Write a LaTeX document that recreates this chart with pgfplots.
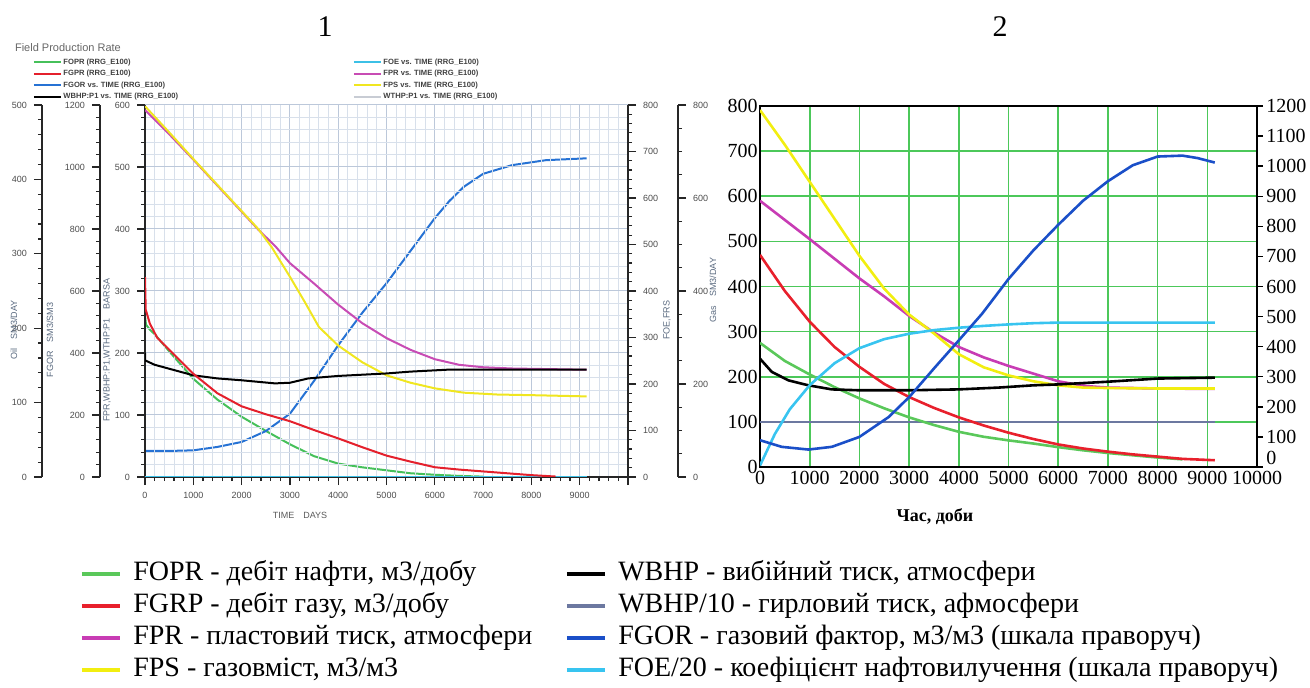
\documentclass[border=0pt]{standalone}
\usepackage{fontspec}
\setmainfont{Liberation Serif}
\newfontfamily\lsans{Liberation Sans}
\usepackage{pgfplots}
\pgfplotsset{compat=1.18}
% left panel colours
\definecolor{lgreen}{HTML}{46C05A}
\definecolor{lred}{HTML}{E4202C}
\definecolor{lblue}{HTML}{2672D4}
\definecolor{lmag}{HTML}{C84CB4}
\definecolor{lyel}{HTML}{F0E620}
\definecolor{lcyan}{HTML}{3CC0E6}
\definecolor{lgrayl}{HTML}{C8CCD4}
\definecolor{gridmin}{HTML}{D8E0EB}
\definecolor{gridmaj}{HTML}{BCC8DA}
\definecolor{labblue}{HTML}{5A6A80}
% right panel colours
\definecolor{rgreen}{HTML}{5AC85A}
\definecolor{rred}{HTML}{E8202C}
\definecolor{rmag}{HTML}{C83CB4}
\definecolor{ryel}{HTML}{F2EE10}
\definecolor{rgray}{HTML}{6C78A0}
\definecolor{rblue}{HTML}{1A4FC8}
\definecolor{rcyan}{HTML}{38C4F0}
\definecolor{gridgreen}{HTML}{4CC85A}

\pgfplotsset{
  lpanel/.style={scale only axis, height=186pt, ymin=0, clip mode=individual,
    tick label style={font=\lsans\fontsize{4.5}{5}\selectfont, text=black!70},
    /pgf/number format/assume math mode=true, /pgf/number format/1000 sep={}, scaled ticks=false,
    major tick length=4pt, minor tick length=2pt,
    every tick/.style={black!85, line width=0.6pt},
    axis line style={black!85, line width=0.9pt},
    every axis plot/.append style={line width=1pt}},
  smalllegend/.style={legend style={draw=none, fill=none, inner sep=0pt, outer sep=0pt,
      font=\lsans\bfseries\fontsize{3.8}{4.2}\selectfont, text=black!75, row sep=0.55pt,
      nodes={inner sep=0.3pt, text height=3.4pt, text depth=1.2pt}},
    legend cell align=left,
    legend image code/.code={\draw[##1,line width=0.9pt] (0pt,0pt) -- (13.5pt,0pt); \path (14pt,0pt);}},
  rpanel/.style={scale only axis, width=248.5pt, height=180.5pt, xmin=0, xmax=10000, ymin=0,
    clip mode=individual,
    tick label style={font=\fontsize{10}{12}\selectfont},
    /pgf/number format/assume math mode=true, /pgf/number format/1000 sep={}, scaled ticks=false,
    every axis plot/.append style={line width=1.3pt}},
  biglegend/.style={legend style={draw=none, fill=none, inner sep=0pt, outer sep=0pt,
      font=\fontsize{14}{16}\selectfont, row sep=1pt,
      nodes={inner sep=1pt, text height=10pt, text depth=3pt}},
    legend cell align=left,
    legend image code/.code={\draw[##1,line width=2pt] (0pt,0pt) -- (19pt,0pt); \path (24pt,0pt);}},
}

\begin{document}
\begin{tikzpicture}
\useasboundingbox (0pt,0pt) rectangle (655pt,-344pt);

%================ LEFT PANEL =================
% Oil rate axis (0-500)
\begin{axis}[lpanel, at={(21pt,-238.5pt)}, anchor=south west, width=293pt,
  xmin=-2132.5, xmax=10000, ymax=500, ytick={0,100,...,500}, minor y tick num=4,
  hide x axis, axis y line*=left, tick align=outside]
\addplot[lgreen, forget plot] coordinates {(0,217)(20,205)(100,198)(200,192)(500,169)(1000,132)(1500,104)(2000,81)(2500,62)(3000,44)(3500,28)(4000,18)(4500,13)(5000,9)(5500,5)(6000,3)(6500,1.5)(7000,0.5)};
\node[rotate=90, font=\lsans\fontsize{4.5}{5}\selectfont, text=labblue] at (axis description cs:-0.0478,0.395) {Oil\quad SM3/DAY};
\end{axis}

% FGOR axis (0-1200)
\begin{axis}[lpanel, at={(50pt,-238.5pt)}, anchor=south west, width=264pt,
  xmin=-931.7, xmax=10000, ymax=1200, ytick={0,200,...,1200}, minor y tick num=4,
  hide x axis, axis y line*=left, tick align=outside]
\addplot[lblue, forget plot] coordinates {(0,84)(500,84)(1000,86)(1500,97)(2000,113)(2500,148)(3000,204)(3500,310)(4000,425)(4500,530)(5000,625)(5500,730)(6000,835)(6300,890)(6600,936)(7000,978)(7600,1006)(8300,1022)(9144,1028)};
\node[rotate=90, font=\lsans\fontsize{4.5}{5}\selectfont, text=labblue] at (axis description cs:-0.0947,0.368) {FGOR\quad SM3/SM3};
\end{axis}

% Pressure axis (0-600) with grid
\begin{axis}[lpanel, smalllegend, at={(72.5pt,-238.5pt)}, anchor=south west, width=241.5pt,
  xmin=0, xmax=10000, ymax=600, ytick={0,100,...,600}, minor y tick num=4,
  xtick={0,1000,...,10000}, minor x tick num=4,
  xticklabels={0,1000,2000,3000,4000,5000,6000,7000,8000,9000,{}},
  grid=both, minor grid style={gridmin, line width=0.4pt}, major grid style={gridmaj, line width=0.5pt},
  axis x line*=bottom, axis y line*=left, tick align=outside,
  legend style={at={(axis description cs:-0.2319,1.129)}, anchor=north west}]
\addplot[lmag, forget plot] coordinates {(0,592)(500,553)(1000,512)(1500,470)(2000,428)(2345,399)(2700,372)(3000,345)(3500,312)(4000,278)(4500,248)(5000,224)(5500,205)(6000,190)(6500,181)(7000,177)(7600,175)(9144,173)};
\addplot[lyel, forget plot] coordinates {(0,598)(500,556)(1000,513)(1500,471)(2000,429)(2345,400)(2621,371)(3000,323)(3310,282)(3600,242)(4000,212)(4500,185)(5000,164)(5500,152)(6000,143)(6600,136)(7300,133)(8000,132)(9144,130)};
\addplot[black, forget plot] coordinates {(0,200)(5,188)(200,181)(483,175)(1000,164)(1500,159)(2000,156)(2690,151)(3000,152)(3380,159)(4000,163)(5000,167)(5500,170)(6245,173)(7625,173)(9144,173)};
\addlegendimage{lgreen}\addlegendentry{FOPR (RRG\_E100)}
\addlegendimage{lred}\addlegendentry{FGPR (RRG\_E100)}
\addlegendimage{lblue}\addlegendentry{FGOR vs. TIME (RRG\_E100)}
\addlegendimage{black}\addlegendentry{WBHP:P1 vs. TIME (RRG\_E100)}
\node[rotate=90, font=\lsans\fontsize{4.5}{5}\selectfont, text=labblue] at (axis description cs:-0.0787,0.341) {FPR,WBHP:P1,WTHP:P1\quad BARSA};
\node[anchor=west, font=\lsans\fontsize{5.5}{6}\selectfont, text=black!60] at (axis description cs:-0.2836,1.1532) {Field Production Rate};
\node[font=\lsans\fontsize{4.5}{5}\selectfont, text=black!65] at (axis description cs:0.3209,-0.1022) {TIME\quad DAYS};
\node[font=\fontsize{15}{18}\selectfont] at (axis description cs:0.3727,1.2097) {1};
\end{axis}

% FOE axis (0-800) on the right frame
\begin{axis}[lpanel, smalllegend, at={(72.5pt,-238.5pt)}, anchor=south west, width=241.5pt,
  xmin=0, xmax=10000, ymax=800, ytick={0,100,...,800}, minor y tick num=4,
  hide x axis, axis y line*=right, tick align=outside,
  legend style={at={(axis description cs:0.4306,1.129)}, anchor=north west}]
\addplot[lcyan, forget plot] coordinates {(0,0)(9144,0)};
\addlegendimage{lcyan}\addlegendentry{FOE vs. TIME (RRG\_E100)}
\addlegendimage{lmag}\addlegendentry{FPR vs. TIME (RRG\_E100)}
\addlegendimage{lyel}\addlegendentry{FPS vs. TIME (RRG\_E100)}
\addlegendimage{lgrayl}\addlegendentry{WTHP:P1 vs. TIME (RRG\_E100)}
\node[rotate=90, font=\lsans\fontsize{4.5}{5}\selectfont, text=labblue] at (axis description cs:1.0807,0.422) {FOE,FRS};
\end{axis}

% Gas rate axis (0-800), outer right
\begin{axis}[lpanel, at={(72.5pt,-238.5pt)}, anchor=south west, width=266.5pt,
  xmin=0, xmax=11035, ymax=800, ytick={0,200,...,800}, minor y tick num=3,
  hide x axis, axis y line*=right, tick align=outside]
\addplot[lred, forget plot] coordinates {(0,430)(15,360)(100,330)(250,300)(500,274)(1000,222)(1500,180)(2000,152)(2500,135)(3000,120)(3500,101)(4000,83)(4500,64)(5000,46)(5500,33)(6000,21)(6500,16)(7000,12)(7500,8)(8000,4)(8500,1)};
\node[rotate=90, font=\lsans\fontsize{4.5}{5}\selectfont, text=labblue] at (axis description cs:1.0657,0.503) {Gas\quad SM3/DAY};
\end{axis}

%================ RIGHT PANEL =================
\begin{axis}[rpanel, biglegend, at={(380pt,-233.5pt)}, anchor=south west,
  ymax=800, xtick={0,1000,...,10000}, ytick={0,100,...,800},
  grid=major, major grid style={gridgreen, line width=0.8pt},
  major tick length=0pt, axis line style={black, line width=1.1pt},
  yticklabel style={inner xsep=1pt}, xticklabel style={inner ysep=2pt},
  legend style={at={(axis description cs:-1.3682,-0.2548)}, anchor=north west}]
\addplot[rgray, line width=1.1pt, forget plot] coordinates {(0,100)(9150,100)};
\addplot[rgreen, forget plot] coordinates {(0,275)(500,235)(1000,205)(1500,177)(2000,152)(2500,130)(3000,110)(3500,93)(4000,78)(4500,67)(5000,59)(5500,52)(6000,44)(6500,37)(7000,31)(7500,26)(8000,21)(8500,17)};
\addplot[rred, forget plot] coordinates {(0,470)(500,390)(1000,322)(1500,266)(2000,222)(2500,184)(3000,155)(3500,131)(4000,110)(4500,92)(5000,76)(5500,62)(6000,50)(6500,41)(7000,34)(7500,28)(8000,23)(8500,18)(9150,15)};
\addplot[rmag, forget plot] coordinates {(0,590)(1000,505)(2000,418)(2500,378)(3000,335)(3500,298)(4000,266)(4500,243)(5000,224)(5500,207)(6000,190)(6300,184)(6600,179)(7000,176)(8000,174)(9150,173)};
\addplot[ryel, forget plot] coordinates {(0,791)(500,714)(1000,632)(1500,550)(2000,468)(2500,395)(3000,338)(3500,296)(4000,250)(4500,221)(5000,203)(5500,190)(6000,181)(6500,176)(7000,175)(8000,174)(9150,174)};
\addplot[black, forget plot] coordinates {(0,240)(235,211)(571,192)(975,181)(1445,172)(2000,170)(3000,170)(4000,172)(4800,176)(5500,181)(6000,183)(7000,189)(8000,196)(9150,198)};
\addlegendimage{rgreen}\addlegendentry{FOPR - дебіт нафти, м3/добу}
\addlegendimage{rred}\addlegendentry{FGRP - дебіт газу, м3/добу}
\addlegendimage{rmag}\addlegendentry{FPR - пластовий тиск, атмосфери}
\addlegendimage{ryel}\addlegendentry{FPS - газовміст, м3/м3}
\node[font=\bfseries\fontsize{9}{10}\selectfont] at (axis description cs:0.352,-0.1385) {Час, доби};
\node[font=\fontsize{15}{18}\selectfont] at (axis description cs:0.4829,1.2188) {2};
\end{axis}

\begin{axis}[rpanel, biglegend, at={(380pt,-233.5pt)}, anchor=south west,
  ymax=1200, ytick={0,100,...,1200},
  yticklabels={\raisebox{1pt}[0pt][0pt]{0},100,200,300,400,500,600,700,800,900,1000,1100,1200},
  hide x axis, axis y line*=right,
  tick align=outside, major tick length=3pt,
  axis line style={black, line width=1.1pt}, every tick/.style={black, line width=0.7pt},
  yticklabel style={inner xsep=1.5pt},
  legend style={at={(axis description cs:-0.3924,-0.2548)}, anchor=north west}]
\addplot[rcyan, forget plot] coordinates {(0,5)(300,110)(600,192)(1000,272)(1500,345)(2000,395)(2500,425)(3000,443)(3500,455)(4000,463)(4500,469)(5000,474)(5500,478)(6000,480)(9150,480)};
\addplot[rblue, forget plot] coordinates {(0,89)(437,67)(975,58)(1445,67)(2000,100)(2588,166)(3005,233)(3529,333)(4000,421)(4471,510)(5000,625)(5500,720)(6000,805)(6500,885)(7000,950)(7500,1003)(8000,1032)(8500,1035)(8800,1027)(9150,1012)};
\addlegendimage{black}\addlegendentry{WBHP - вибійний тиск, атмосфери}
\addlegendimage{rgray}\addlegendentry{WBHP/10 - гирловий тиск, афмосфери}
\addlegendimage{rblue}\addlegendentry{FGOR - газовий фактор, м3/м3 (шкала праворуч)}
\addlegendimage{rcyan}\addlegendentry{FOE/20 - коефіцієнт нафтовилучення (шкала праворуч)}
\end{axis}
\end{tikzpicture}
\end{document}
